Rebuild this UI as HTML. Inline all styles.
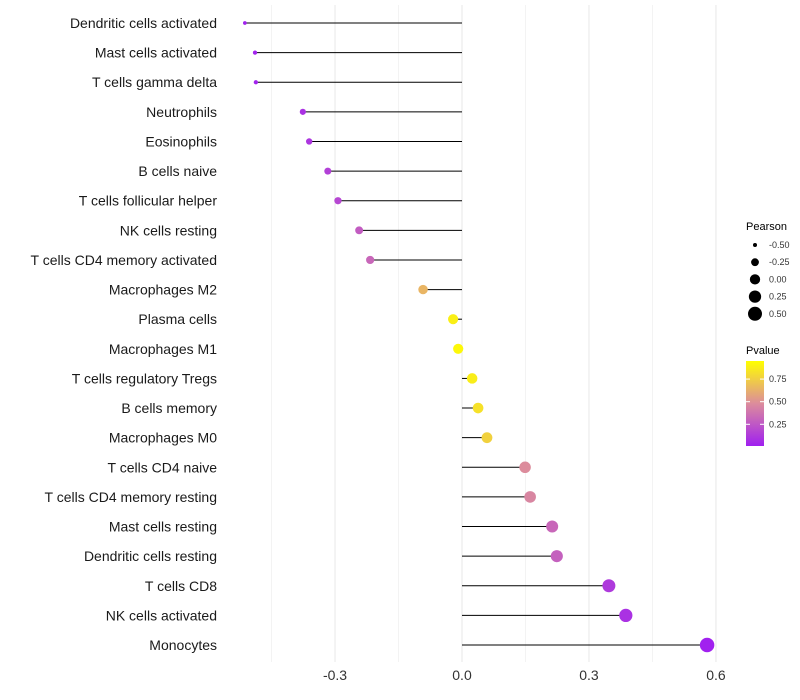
<!DOCTYPE html>
<html><head><meta charset="utf-8"><style>body{margin:0;background:#fff}svg{display:block;font-family:"Liberation Sans",sans-serif}</style></head>
<body>
<svg id="chart" width="800" height="700"></svg>
<script>
const categories=["Dendritic cells activated","Mast cells activated","T cells gamma delta","Neutrophils","Eosinophils","B cells naive","T cells follicular helper","NK cells resting","T cells CD4 memory activated","Macrophages M2","Plasma cells","Macrophages M1","T cells regulatory  Tregs ","B cells memory","Macrophages M0","T cells CD4 naive","T cells CD4 memory resting","Mast cells resting","Dendritic cells resting","T cells CD8","NK cells activated","Monocytes"];
const pearson=[-0.513,-0.489,-0.487,-0.376,-0.361,-0.317,-0.293,-0.243,-0.217,-0.092,-0.021,-0.009,0.024,0.038,0.059,0.149,0.161,0.213,0.224,0.347,0.387,0.579];
const pvalue=[0.01,0.02,0.02,0.08,0.1,0.15,0.18,0.28,0.33,0.68,0.93,0.97,0.92,0.87,0.8,0.5,0.47,0.33,0.3,0.12,0.08,0.005];
const xTicks=[-0.3,0.0,0.3,0.6];
const xTickLabels=["-0.3","0.0","0.3","0.6"];
const sizeLegend=[-0.5,-0.25,0,0.25,0.5];
const pLegend=[0.75,0.5,0.25];
const NS="http://www.w3.org/2000/svg";
const svg=document.getElementById('chart');
function mk(t,a,p){const e=document.createElementNS(NS,t);for(const k in a)e.setAttribute(k,a[k]);(p||svg).appendChild(e);return e;}
const x=v=>462+v*423.3;
const y=i=>23+i*(645-23)/21;
const r=v=>Math.sqrt(Math.max(1.5,4+(v+0.5)*45));
function hex(h){return [1,3,5].map(i=>parseInt(h.substr(i,2),16));}
const stops=[[0,hex("#a020f0")],[0.5,hex("#dc8c9c")],[1,hex("#ffff00")]];
function col(p){for(let i=0;i<2;i++){const[a,ca]=stops[i],[b,cb]=stops[i+1];if(p<=b){const t=(p-a)/(b-a);return `rgb(${ca.map((c,j)=>Math.round(c+(cb[j]-c)*t)).join(',')})`;}}return "#ffff00";}
for(let v=-0.45;v<=0.65;v+=0.15){const g=mk('line',{x1:x(v),x2:x(v),y1:5,y2:662,stroke:'#ebebeb','stroke-width':Math.abs(Math.round(v/0.15))%2==0?1.2:0.6});

}
xTicks.forEach((v,i)=>{const t=mk('text',{x:x(v),y:680,'text-anchor':'middle','font-size':14,fill:'#333'});t.textContent=xTickLabels[i];

});
categories.forEach((c,i)=>{
const l=mk('text',{x:217,y:y(i)+5,'text-anchor':'end','font-size':14,fill:'#1a1a1a'});l.textContent=c;


const s=mk('line',{x1:x(0),x2:x(pearson[i]),y1:y(i),y2:y(i),stroke:'#000','stroke-width':1});


const d=mk('circle',{cx:x(pearson[i]),cy:y(i),r:r(pearson[i]),fill:col(pvalue[i])});


});
const t1=mk('text',{x:746,y:230,'font-size':11,fill:'#000'});t1.textContent="Pearson";


sizeLegend.forEach((v,i)=>{const cy=245+i*17.2;
const c=mk('circle',{cx:755,cy:cy,r:r(v),fill:'#000'});


const t=mk('text',{x:769,y:cy+3,'font-size':9,fill:'#333'});t.textContent=v.toFixed(2);

});
const t2=mk('text',{x:746,y:354,'font-size':11,fill:'#000'});t2.textContent="Pvalue";


const defs=mk('defs',{});const gr=mk('linearGradient',{id:'pg',x1:0,y1:1,x2:0,y2:0},defs);
[0,0.25,0.5,0.75,1].forEach(o=>mk('stop',{offset:o,'stop-color':col(o)},gr));
const bar=mk('rect',{x:746,y:361,width:18,height:85,fill:'url(#pg)'});


pLegend.forEach(p=>{const yy=446-(p-0.01)/0.94*85;
mk('line',{x1:746,x2:750,y1:yy,y2:yy,stroke:'#fff'});mk('line',{x1:760,x2:764,y1:yy,y2:yy,stroke:'#fff'});
const t=mk('text',{x:769,y:yy+3,'font-size':9,fill:'#333'});t.textContent=p.toFixed(2);

});
</script>
</body></html>
